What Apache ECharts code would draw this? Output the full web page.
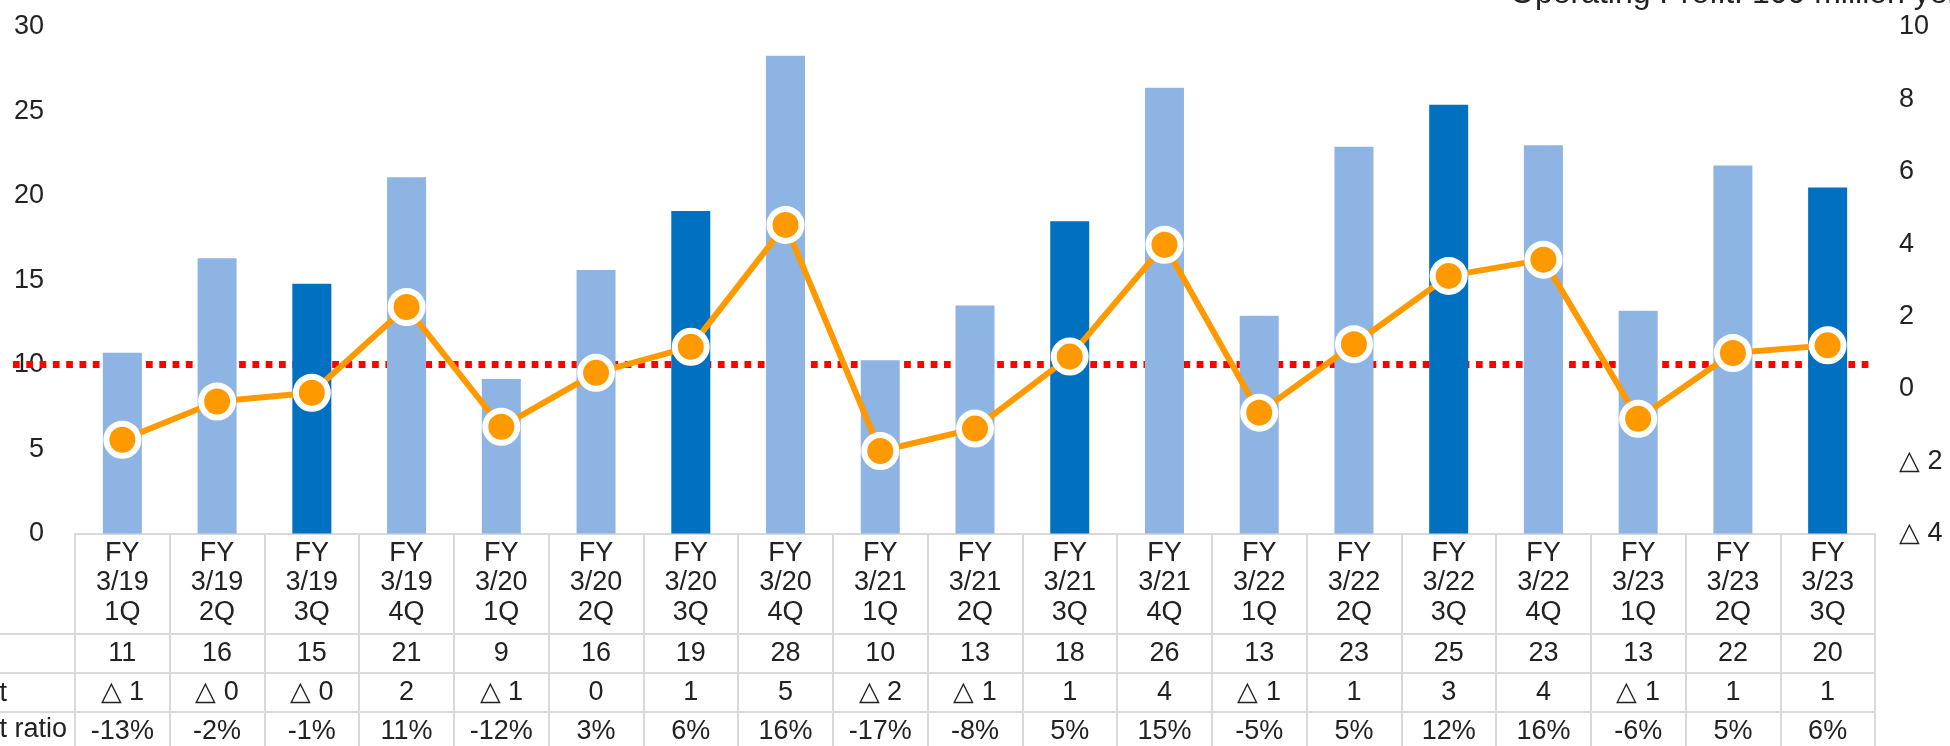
<!DOCTYPE html>
<html>
<head>
<meta charset="utf-8">
<script src="https://cdn.jsdelivr.net/npm/echarts@6/dist/echarts.min.js"></script>
<style>
  html, body { margin: 0; padding: 0; background: #ffffff; }
  #main { width: 1950px; height: 746px; }
</style>
</head>
<body>
<div id="main"></div>
<script>
var categories = ['FY\n3/19\n1Q', 'FY\n3/19\n2Q', 'FY\n3/19\n3Q', 'FY\n3/19\n4Q',
    'FY\n3/20\n1Q', 'FY\n3/20\n2Q', 'FY\n3/20\n3Q', 'FY\n3/20\n4Q',
    'FY\n3/21\n1Q', 'FY\n3/21\n2Q', 'FY\n3/21\n3Q', 'FY\n3/21\n4Q',
    'FY\n3/22\n1Q', 'FY\n3/22\n2Q', 'FY\n3/22\n3Q', 'FY\n3/22\n4Q',
    'FY\n3/23\n1Q', 'FY\n3/23\n2Q', 'FY\n3/23\n3Q'];

// bar heights (left axis) and line points (right axis)
var salesValues = [10.7, 16.3, 14.8, 21.1, 9.15, 15.6, 19.1, 28.3, 10.26, 13.5,
    18.5, 26.4, 12.9, 22.9, 25.4, 23.0, 13.2, 21.8, 20.5];
var profitValues = [-1.41, -0.35, -0.11, 2.26, -1.05, 0.44, 1.16, 4.53, -1.72, -1.10,
    0.89, 3.98, -0.66, 1.23, 3.12, 3.57, -0.83, 0.99, 1.20];
var thresholdValue = 10;

// table rows
var salesRow = ['11', '16', '15', '21', '9', '16', '19', '28', '10', '13',
    '18', '26', '13', '23', '25', '23', '13', '22', '20'];
var profitRow = ['△ 1', '△ 0', '△ 0', '2', '△ 1', '0', '1', '5', '△ 2', '△ 1',
    '1', '4', '△ 1', '1', '3', '4', '△ 1', '1', '1'];
var ratioRow = ['-13%', '-2%', '-1%', '11%', '-12%', '3%', '6%', '16%', '-17%', '-8%',
    '5%', '15%', '-5%', '5%', '12%', '16%', '-6%', '5%', '6%'];

var FONT = '"Liberation Sans", Arial, sans-serif';
var FONT_SIZE = 27;
var TEXT = '#222222';
var GRID_LINE = '#D9D9D9';

var chartDom = document.getElementById('main');
var myChart = echarts.init(chartDom);
var option;

function tableAxis(data, offset, rowHeight) {
    return {
        type: 'category',
        position: 'bottom',
        gridIndex: 0,
        offset: offset,
        data: data,
        axisLine: { show: true, onZero: false, lineStyle: { color: GRID_LINE, width: 2 } },
        axisTick: { show: true, inside: false, length: rowHeight, interval: 0,
            lineStyle: { color: GRID_LINE, width: 2 } },
        axisLabel: { interval: 0, margin: 5, color: TEXT, fontSize: FONT_SIZE,
            fontFamily: FONT, lineHeight: 29.5, align: 'center' },
        splitLine: { show: false }
    };
}

option = {
    animation: false,
    backgroundColor: '#ffffff',
    grid: {
        left: 75,
        right: 75,
        top: 27,
        bottom: 212,
        containLabel: false
    },
    xAxis: [
        tableAxis(categories, 0, 100),
        tableAxis(salesRow, 100, 39),
        tableAxis(profitRow, 139, 39),
        tableAxis(ratioRow, 178, 39)
    ],
    yAxis: [{
        type: 'value',
        min: 0,
        max: 30,
        interval: 5,
        axisLine: { show: false },
        axisTick: { show: false },
        splitLine: { show: false },
        axisLabel: { color: TEXT, fontSize: FONT_SIZE, fontFamily: FONT, margin: 31 }
    },
    {
        type: 'value',
        min: -4,
        max: 10,
        interval: 2,
        axisLine: { show: false },
        axisTick: { show: false },
        splitLine: { show: false },
        axisLabel: {
            color: TEXT, fontSize: FONT_SIZE, fontFamily: FONT, margin: 24,
            formatter: function (v) {
                return v < 0 ? '△ ' + (-v) : String(v);
            }
        }
    }],
    series: [{
        // carries only the dotted reference line, kept under the bars
        type: 'line',
        name: 'threshold',
        xAxisIndex: 0,
        yAxisIndex: 0,
        zlevel: 0,
        z: 1,
        data: [],
        silent: true,
        markLine: {
            silent: true,
            zlevel: 0,
            z: 1,
            symbol: 'none',
            label: { show: false },
            lineStyle: { color: '#FF0000', width: 7, type: [6.7, 6.6], opacity: 1 },
            data: [[
                { coord: [0, thresholdValue], x: 13 },
                { coord: [categories.length - 1, thresholdValue], x: 1872 }
            ]]
        }
    },
    {
        type: 'bar',
        xAxisIndex: 0,
        yAxisIndex: 0,
        barWidth: 39,
        zlevel: 1,
        z: 6,
        data: salesValues,
        itemStyle: {
            color: function (p) {
                return categories[p.dataIndex].indexOf('3Q') >= 0 ? '#0070C0' : '#8EB4E3';
            }
        }
    },
    {
        type: 'line',
        xAxisIndex: 0,
        yAxisIndex: 1,
        zlevel: 1,
        z: 8,
        data: profitValues,
        symbol: 'circle',
        symbolSize: 32,
        lineStyle: { color: '#FF9900', width: 6 },
        itemStyle: { color: '#FF9900', borderColor: '#ffffff', borderWidth: 6 }
    }],
    graphic: [
        { type: 'line', shape: { x1: 0, y1: 634, x2: 75, y2: 634 }, style: { stroke: GRID_LINE, lineWidth: 2 } },
        { type: 'line', shape: { x1: 0, y1: 673, x2: 75, y2: 673 }, style: { stroke: GRID_LINE, lineWidth: 2 } },
        { type: 'line', shape: { x1: 0, y1: 712, x2: 75, y2: 712 }, style: { stroke: GRID_LINE, lineWidth: 2 } },
        { type: 'text', x: -182, y: 694, style: { text: 'Operating Profit', font: FONT_SIZE + 'px ' + FONT,
            fill: TEXT, align: 'left', verticalAlign: 'middle' } },
        { type: 'text', x: -182, y: 730, style: { text: 'Operating Profit ratio', font: FONT_SIZE + 'px ' + FONT,
            fill: TEXT, align: 'left', verticalAlign: 'middle' } },
        { type: 'text', x: 1510, y: -6, style: { text: 'Operating Profit: 100 million yen', font: '32px ' + FONT,
            fill: TEXT, align: 'left', verticalAlign: 'middle' } }
    ]
};

option && myChart.setOption(option);
</script>
</body>
</html>
